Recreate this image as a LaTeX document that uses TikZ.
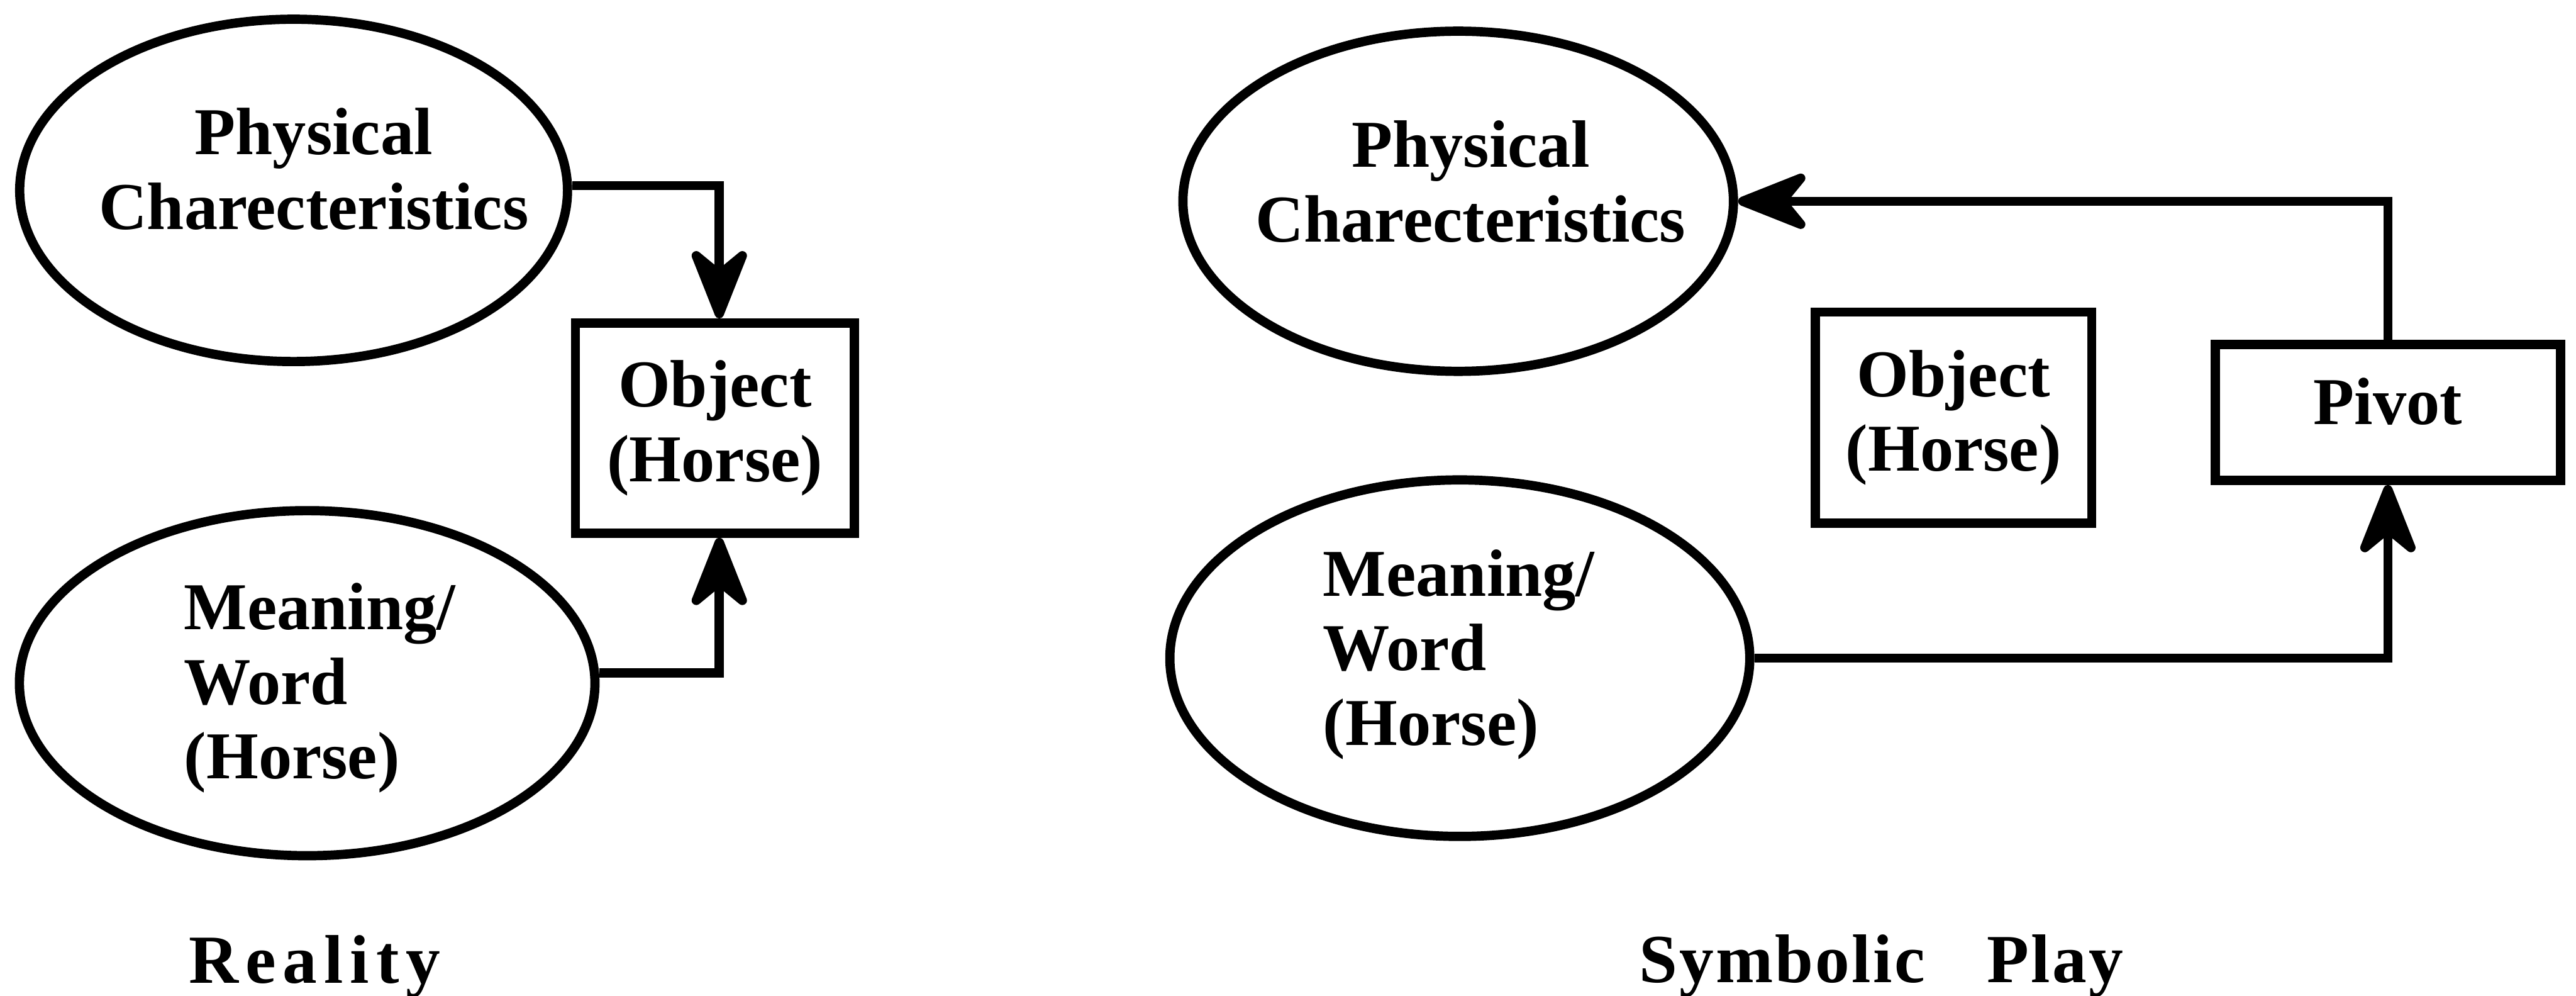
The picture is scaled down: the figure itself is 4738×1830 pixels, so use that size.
\documentclass[tikz,border=0pt]{standalone}
\usepackage{fontspec}
\setmainfont{Liberation Serif}
\usetikzlibrary{arrows.meta,shapes.geometric}
\begin{document}
\begin{tikzpicture}[x=0.01cm,y=-0.01cm,
  every node/.style={font=\fontsize{35}{39}\selectfont\bfseries},
  oval/.style={draw,ellipse,line width=0.17cm,inner sep=0pt},
  box/.style={draw,rectangle,line width=0.17cm,inner sep=0pt,align=center},
  word/.style={inner sep=0pt},
  link/.style={line width=0.17cm,-{Stealth[length=1.56cm,width=1.23cm,inset=0.5cm,round]}},
  caption/.style={inner sep=0pt,anchor=base,font=\fontsize{36}{42}\selectfont\bfseries}]
\useasboundingbox (0,0) rectangle (4738,1830);

% ---- Reality ----
\node[oval,minimum width=10.07cm,minimum height=6.29cm] (lphys) at (540,350) {};
\node[word,align=center] (lphystext) at (577,311) {Physical\\Charecteristics};
\node[oval,minimum width=10.58cm,minimum height=6.34cm] (lword) at (565,1256) {};
\node[word,align=left,anchor=west] (lwordtext) at (338,1265) {Meaning/\\Word\\(Horse)};
\node[box,minimum width=5.13cm,minimum height=3.86cm] (lobj) at (1315,787) {Object\\(Horse)};
\coordinate (lx) at (1323,0);
\draw[link] (lphys.1) -| (lx |- lobj.north);
\draw[link] (lword.2) -| (lx |- lobj.south);
\node[caption,font=\fontsize{36}{42}\selectfont\bfseries\addfontfeature{LetterSpace=10}] (reality) at (579,1807) {Reality};

% ---- Symbolic Play ----
\node[oval,minimum width=10.12cm,minimum height=6.25cm] (rphys) at (2682,370) {};
\node[word,align=center] (rphystext) at (2705,334) {Physical\\Charecteristics};
\node[oval,minimum width=10.66cm,minimum height=6.55cm] (rword) at (2685,1210) {};
\node[word,align=left,anchor=west] (rwordtext) at (2433,1203) {Meaning/\\Word\\(Horse)};
\node[box,minimum width=5.08cm,minimum height=3.88cm] (robj) at (3593,768) {Object\\(Horse)};
\node[box,minimum width=6.35cm,minimum height=2.5cm,text depth=0.4cm] (pivot) at (4392,758) {Pivot};
\draw[link] (pivot.north) |- (rphys.east);
\draw[link] (rword.east) -| (pivot.south);
\node[caption,font=\fontsize{36}{42}\selectfont\bfseries\addfontfeature{LetterSpace=3}] (symplay) at (3460,1806) {Symbolic\hspace{0.9em}Play};
\end{tikzpicture}
\end{document}
